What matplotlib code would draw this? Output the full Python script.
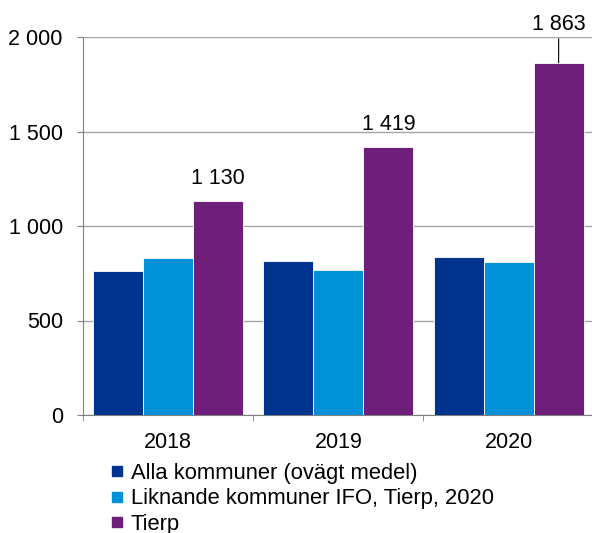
import numpy as np
import matplotlib.pyplot as plt
from matplotlib.lines import Line2D

years = ['2018', '2019', '2020']
alla = [762, 815, 836]
liknande = [831, 767, 810]
tierp = [1130, 1419, 1863]
series_names = ['Alla kommuner (ovägt medel)', 'Liknande kommuner IFO, Tierp, 2020', 'Tierp']
colors = ['#00338d', '#0091d8', '#6d1f7a']

plt.rcParams['font.family'] = ['Liberation Sans', 'DejaVu Sans']
fs = 15.5

fig = plt.figure(figsize=(5.92, 5.33), dpi=100)
ax = fig.add_axes([83 / 592, 1 - 415 / 533, 509 / 592, 378 / 533])

x = np.arange(len(years))
w = 0.294
for i, (vals, c) in enumerate(zip([alla, liknande, tierp], colors)):
    ax.bar(x + (i - 1) * w, vals, w, color=c, edgecolor='white', linewidth=0.6, zorder=3)

# value labels on Tierp
for xi, v in zip(x, tierp):
    label = f'{v:,}'.replace(',', ' ')
    if v > 1800:
        ax.annotate(label, xy=(xi + w, v), xytext=(xi + w, v + 205),
                    ha='center', va='center', fontsize=fs, annotation_clip=False,
                    arrowprops=dict(arrowstyle='-', color='black', lw=0.8, shrinkA=1, shrinkB=0))
    else:
        ax.text(xi + w, v + 120, label, ha='center', va='center', fontsize=fs)

ax.set_ylim(0, 2000)
ax.set_xlim(-0.5, 2.49)
ax.set_yticks([0, 500, 1000, 1500, 2000])
ax.set_yticklabels(['0', '500', '1 000', '1 500', '2 000'], fontsize=fs)
ax.set_xticks(x)
ax.set_xticklabels(years, fontsize=fs)
ax.tick_params(axis='x', length=0, pad=12)
ax.set_xticks([-0.5, 0.5, 1.5, 2.49], minor=True)
ax.tick_params(axis='x', which='minor', length=4, color='#808080')
ax.tick_params(axis='y', length=4, color='#808080', pad=10.5)
ax.grid(axis='y', color='#a6a6a6', linewidth=1, zorder=0)
for s in ['top', 'right']:
    ax.spines[s].set_visible(False)
ax.spines['left'].set_color('#808080')
ax.spines['bottom'].set_color('#808080')

handles = [Line2D([], [], marker='s', linestyle='none', markersize=7, color=c) for c in colors]
fig.legend(handles, series_names, loc='upper left', bbox_to_anchor=(110 / 592, 1 - 463 / 533),
           frameon=False, fontsize=15.8, handlelength=0.6, handletextpad=0.35,
           labelspacing=0.2, borderpad=0, borderaxespad=0)

fig.savefig('out.png', dpi=100)
